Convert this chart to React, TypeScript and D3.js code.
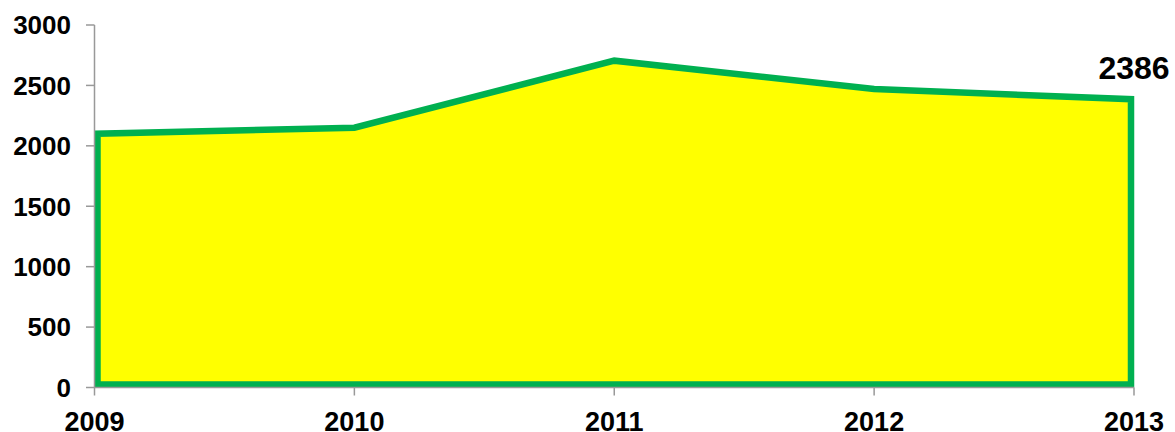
import React from 'react';
import * as d3 from 'd3';

// values
const years = ['2009', '2010', '2011', '2012', '2013'];
const values = [2100, 2150, 2705, 2470, 2386];
const yTicks = [0, 500, 1000, 1500, 2000, 2500, 3000];
const lastLabel = '2386';

const W = 1175;
const H = 432;
const inset = 3; // the green border sits inside the plot

export default function App() {
  const x = d3.scalePoint<string>().domain(years).range([94.5, 1134]);
  const y = d3.scaleLinear().domain([0, 3000]).range([387.5, 25]);

  const pts = years.map((yr, i) => ({ yr, v: values[i] }));
  const first = x(years[0])! + inset;
  const last = x(years[years.length - 1])! - inset;
  // closed outline: baseline -> values -> baseline
  const outline: [number, number][] = [
    [first, y(0) - inset],
    ...pts.map((p, i) => {
      let px = x(p.yr)!;
      if (i === 0) px = first;
      if (i === pts.length - 1) px = last;
      return [px, y(p.v)] as [number, number];
    }),
    [last, y(0) - inset],
  ];
  const path = d3.line()(outline) + 'Z';

  const font = 'Liberation Sans, Arial, sans-serif';

  return (
    <svg width={W} height={H} style={{ position: 'absolute', left: 0, top: 0, background: '#fff' }}>
      <path d={path} fill="#ffff00" stroke="#00b050" strokeWidth={6.5} strokeLinejoin="miter" />

      {/* y axis */}
      <line x1={94.5} x2={94.5} y1={y(3000)} y2={y(0)} stroke="#999" strokeWidth={1.5} />
      {yTicks.map((t) => (
        <g key={t}>
          <line x1={86} x2={94.5} y1={y(t)} y2={y(t)} stroke="#999" strokeWidth={1.5} />
          <text
            x={71}
            y={y(t)}
            dy="0.36em"
            textAnchor="end"
            fontFamily={font}
            fontWeight="bold"
            fontSize={26}
            fill="#000"
          >
            {t}
          </text>
        </g>
      ))}

      {/* x axis */}
      <line x1={94.5} x2={1134} y1={y(0)} y2={y(0)} stroke="#999" strokeWidth={1.5} />
      {years.map((yr) => (
        <g key={yr}>
          <line x1={x(yr)!} x2={x(yr)!} y1={y(0)} y2={y(0) + 8} stroke="#999" strokeWidth={1.5} />
          <text
            x={x(yr)!}
            y={y(0) + 43}
            textAnchor="middle"
            fontFamily={font}
            fontWeight="bold"
            fontSize={27}
            fill="#000"
          >
            {yr}
          </text>
        </g>
      ))}

      <text
        x={x(years[years.length - 1])!}
        y={y(values[values.length - 1]) - 20}
        textAnchor="middle"
        fontFamily={font}
        fontWeight="bold"
        fontSize={32}
        fill="#000"
      >
        {lastLabel}
      </text>
    </svg>
  );
}
